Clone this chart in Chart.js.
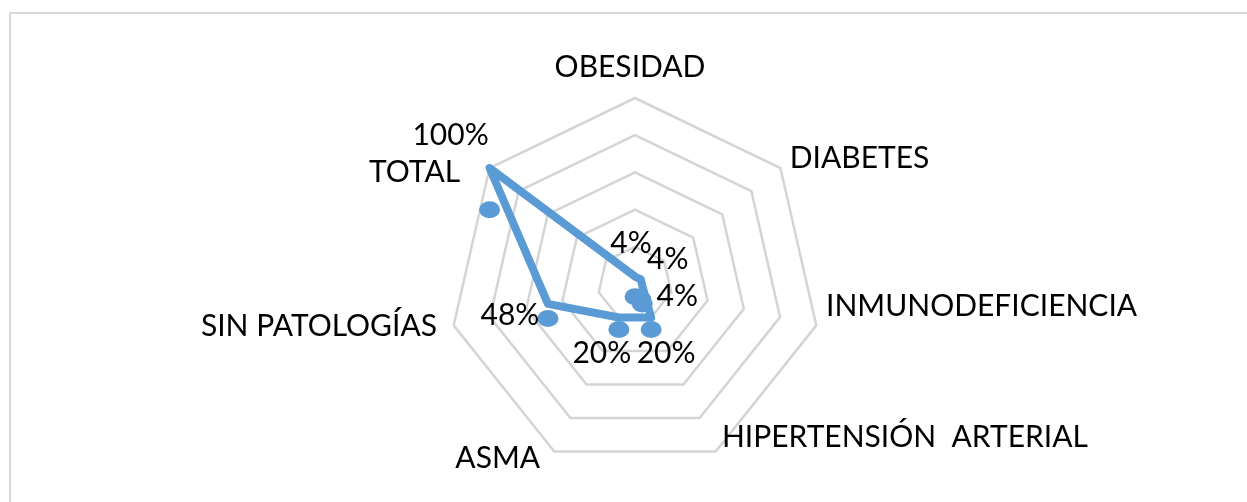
<!DOCTYPE html>
<html>
<head>
<meta charset="utf-8">
<script src="https://cdn.jsdelivr.net/npm/chart.js@4"></script>
<style>
  html, body { margin: 0; padding: 0; background: #fff; overflow: hidden; }
  canvas { display: block; }
</style>
</head>
<body>
<canvas id="chart" width="1247" height="502"></canvas>
<script>
// radar of patologías, values in %
const categories = ["OBESIDAD", "DIABETES", "INMUNODEFICIENCIA", "HIPERTENSIÓN  ARTERIAL", "ASMA", "SIN PATOLOGÍAS", "TOTAL"];
const percentages = [4, 4, 4, 20, 20, 48, 100];
const tickValues = [0, 20, 40, 60, 80, 100];

// label placement tweaks (px) so text sits where the original put it
const catNudge = [[-5, -20], [0, -3.5], [-2, -23], [1, -26], [-9, -5], [-5, -3], [-20, 10.5]];
const valueNudge = [[-4, -55], [27, -41], [35, -9], [15, 23], [-17, 23], [-38, -4], [-39, -76]];

const FONT = "30px Lato";
const BLUE = "#5b9bd5";

// light frame round the chart area
const framePlugin = {
  id: "frame",
  beforeDraw(chart) {
    const ctx = chart.ctx;
    ctx.save();
    ctx.strokeStyle = "#d9d9d9";
    ctx.lineWidth = 2;
    ctx.beginPath();
    ctx.moveTo(10, chart.height + 5);
    ctx.lineTo(10, 13);
    ctx.lineTo(chart.width + 5, 13);
    ctx.stroke();
    ctx.restore();
  },
};

// category names round the outside
const catLabels = {
  id: "catLabels",
  afterDraw(chart) {
    const ctx = chart.ctx;
    const r = chart.scales.r;
    ctx.save();
    ctx.font = FONT;
    ctx.fillStyle = "#000";
    ctx.textBaseline = "alphabetic";
    categories.forEach((name, i) => {
      const pos = r.getPointPosition(i, r.drawingArea + 12);
      let deg = Math.round(r.getIndexAngle(i) * 180 / Math.PI) % 360;
      ctx.textAlign = deg === 0 || deg === 180 ? "center" : deg < 180 ? "left" : "right";
      ctx.fillText(name, pos.x + catNudge[i][0], pos.y + 11 + catNudge[i][1]);
    });
    ctx.restore();
  },
};

// markers + value labels (markers sit on a squashed frame, like the original)
const markers = {
  id: "markers",
  afterDatasetsDraw(chart) {
    const ctx = chart.ctx;
    const r = chart.scales.r;
    const meta = chart.getDatasetMeta(0);
    ctx.save();
    meta.data.forEach((pt, i) => {
      const mx = pt.x;
      const my = r.yCenter + 0.1 * r.drawingArea + 0.8 * (pt.y - r.yCenter);
      ctx.fillStyle = BLUE;
      ctx.beginPath();
      ctx.ellipse(mx, my, 10.5, 8.5, 0, 0, Math.PI * 2);
      ctx.fill();
    });
    ctx.font = FONT;
    ctx.fillStyle = "#000";
    ctx.textAlign = "center";
    ctx.textBaseline = "alphabetic";
    meta.data.forEach((pt, i) => {
      const mx = pt.x;
      const my = r.yCenter + 0.1 * r.drawingArea + 0.8 * (pt.y - r.yCenter);
      ctx.fillText(percentages[i] + "%", mx + valueNudge[i][0], my + valueNudge[i][1] + 11);
    });
    ctx.restore();
  },
};

new Chart(document.getElementById("chart"), {
  type: "radar",
  data: {
    labels: categories,
    datasets: [{
      data: percentages,
      borderColor: BLUE,
      borderWidth: 8,
      borderJoinStyle: "round",
      fill: false,
      pointRadius: 0,
      pointHoverRadius: 0,
    }],
  },
  options: {
    responsive: false,
    animation: false,
    layout: { padding: { top: 98, bottom: 32, left: 449, right: 426 } },
    plugins: { legend: { display: false }, tooltip: { enabled: false } },
    scales: {
      r: {
        min: tickValues[0],
        max: tickValues[tickValues.length - 1],
        ticks: { stepSize: tickValues[1] - tickValues[0], display: false },
        grid: { color: "#d4d4d4", lineWidth: 2.5 },
        angleLines: { display: false },
        pointLabels: { display: false },
      },
    },
  },
  plugins: [framePlugin, catLabels, markers],
});
</script>
</body>
</html>
